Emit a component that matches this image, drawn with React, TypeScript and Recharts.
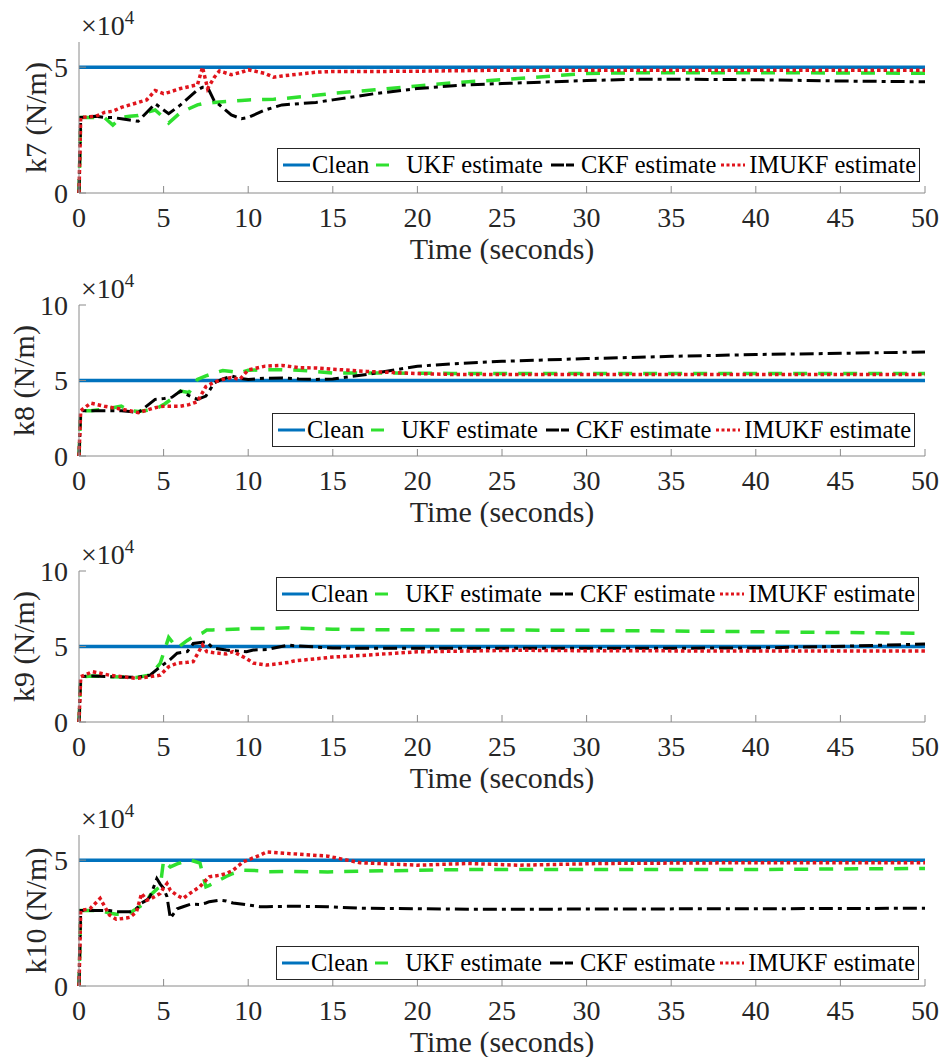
import React from 'react';
import { LineChart, Line, XAxis, YAxis, Legend } from 'recharts';

const FONT = '"Liberation Serif", "Times New Roman", serif';
const INK = '#262626';

// shared axis ticks and the reference level (all values in units of 1e4 N/m)
const timeTicks = [0, 5, 10, 15, 20, 25, 30, 35, 40, 45, 50];
const cleanLevel = 5;

// k7
const k7Time = [0, 0.1, 1, 1.5, 2, 2.5, 3, 3.5, 4, 4.5, 5, 5.3, 6, 7, 7.3, 7.6, 8, 8.3, 9, 9.6, 10, 11, 11.5, 12, 14, 15, 17.5, 20, 22.5, 25, 28, 30, 33, 36, 40, 45, 50];
const k7Ukf = [0, 3, 3.0, 3.0, 2.7, 3.0, 3.05, 3.08, 3.2, 3.3, 3.0, 2.78, 3.2, 3.5, 3.55, 3.55, 3.6, 3.62, 3.65, 3.68, 3.7, 3.72, 3.73, 3.75, 3.88, 3.96, 4.1, 4.25, 4.4, 4.5, 4.65, 4.75, 4.78, 4.78, 4.78, 4.77, 4.76];
const k7Ckf = [0, 3, 3.05, 3.0, 3.0, 2.95, 2.9, 2.85, 3.2, 3.55, 3.3, 3.15, 3.5, 4.1, 4.2, 4.2, 3.65, 3.5, 3.1, 2.95, 3.0, 3.3, 3.4, 3.5, 3.6, 3.7, 3.95, 4.15, 4.28, 4.35, 4.42, 4.47, 4.52, 4.52, 4.5, 4.45, 4.42];
const k7Imukf = [0, 3, 3.05, 3.2, 3.25, 3.4, 3.5, 3.6, 3.7, 4.07, 3.95, 4.0, 4.15, 4.3, 5.0, 4.15, 4.6, 4.85, 4.7, 4.8, 4.9, 4.75, 4.6, 4.65, 4.8, 4.83, 4.83, 4.84, 4.86, 4.88, 4.88, 4.88, 4.88, 4.88, 4.88, 4.88, 4.88];

// k8
const k8Time = [0, 0.1, 0.7, 1.5, 2.5, 3, 3.5, 4.5, 5, 5.5, 6, 6.5, 7, 7.5, 8, 8.5, 9, 9.5, 10, 11, 12, 13, 14, 15, 17, 20, 22, 25, 30, 35, 40, 45, 50];
const k8Ukf = [0, 3, 3.0, 3.1, 3.3, 3.0, 2.95, 3.1, 3.4, 3.8, 4.3, 4.2, 5.07, 5.3, 5.5, 5.66, 5.6, 5.5, 5.68, 5.7, 5.72, 5.68, 5.6, 5.5, 5.5, 5.48, 5.47, 5.47, 5.47, 5.47, 5.47, 5.47, 5.47];
const k8Ckf = [0, 3, 3.0, 3.0, 3.0, 2.95, 2.87, 3.75, 3.8, 3.9, 4.3, 4.0, 3.75, 3.97, 4.85, 5.1, 5.3, 5.15, 5.07, 5.15, 5.17, 5.1, 5.07, 5.1, 5.4, 5.94, 6.1, 6.27, 6.45, 6.6, 6.72, 6.8, 6.89];
const k8Imukf = [0, 3, 3.5, 3.3, 3.1, 3.0, 2.87, 3.2, 3.3, 3.3, 3.3, 3.4, 3.6, 4.6, 4.9, 5.07, 5.2, 5.07, 5.7, 5.95, 6.0, 5.85, 5.83, 5.75, 5.6, 5.46, 5.4, 5.39, 5.39, 5.39, 5.39, 5.39, 5.39];

// k9
const k9Time = [0, 0.1, 0.8, 1.8, 3.4, 4.2, 4.8, 5.3, 5.8, 6.4, 6.75, 7.3, 7.55, 7.9, 8.7, 9.1, 9.9, 10.3, 11.1, 12.4, 12.7, 15, 16.6, 20, 26, 30, 40, 44.6, 50];
const k9Ukf = [0, 3, 3.05, 3.0, 2.95, 3.1, 3.88, 5.6, 4.9, 5.4, 5.65, 5.9, 6.09, 6.1, 6.13, 6.15, 6.18, 6.2, 6.2, 6.24, 6.22, 6.15, 6.12, 6.1, 6.09, 6.07, 5.98, 5.93, 5.87];
const k9Ckf = [0, 3, 3.05, 3.0, 2.95, 3.1, 3.66, 4.05, 4.56, 4.66, 5.2, 5.28, 5.32, 4.9, 4.77, 4.72, 4.66, 4.77, 4.8, 5.1, 5.05, 4.9, 4.88, 4.88, 4.88, 4.88, 4.9, 5.0, 5.16];
const k9Imukf = [0, 3, 3.33, 3.1, 2.89, 3.0, 3.1, 3.66, 3.9, 3.95, 4.0, 5.1, 4.66, 4.6, 4.5, 4.66, 4.2, 3.9, 3.77, 3.95, 4.04, 4.3, 4.4, 4.65, 4.75, 4.72, 4.7, 4.7, 4.7];

// k10
const k10Time = [0, 0.1, 0.65, 1.25, 1.8, 2.2, 2.8, 3.0, 3.4, 3.7, 4.0, 4.2, 4.6, 4.8, 5.0, 5.2, 5.4, 5.8, 6.15, 6.6, 7.15, 7.5, 7.7, 8.3, 8.7, 9.1, 9.7, 10.7, 11.1, 12.7, 14.7, 16.6, 20, 23, 26, 31, 40, 50];
const k10Ukf = [0, 3, 3.0, 3.0, 2.9, 2.85, 2.85, 2.9, 3.07, 3.2, 3.4, 3.6, 3.85, 3.94, 5.0, 4.85, 4.73, 4.85, 4.93, 5.0, 4.88, 3.94, 4.0, 4.21, 4.35, 4.47, 4.6, 4.58, 4.54, 4.55, 4.53, 4.56, 4.6, 4.63, 4.63, 4.63, 4.63, 4.67];
const k10Ckf = [0, 3, 3.0, 3.0, 3.0, 2.95, 2.95, 2.95, 3.07, 3.3, 3.41, 3.55, 4.27, 4.05, 3.88, 3.55, 2.69, 3.07, 3.15, 3.25, 3.24, 3.3, 3.35, 3.41, 3.38, 3.3, 3.25, 3.15, 3.15, 3.17, 3.15, 3.09, 3.07, 3.05, 3.05, 3.06, 3.07, 3.09];
const k10Imukf = [0, 3, 3.07, 3.48, 2.82, 2.65, 2.7, 2.73, 2.95, 3.68, 3.41, 3.45, 3.6, 3.68, 3.9, 4.07, 3.8, 3.6, 3.48, 3.7, 3.95, 4.2, 4.34, 4.4, 4.47, 4.6, 4.93, 5.2, 5.33, 5.25, 5.16, 4.9, 4.8, 4.87, 4.8, 4.87, 4.9, 4.9];

const series = [
  { key: 'clean', label: 'Clean', color: '#0072bd', width: 3.5, dash: undefined, legendDash: undefined, sample: 27, before: 0, after: 2 },
  { key: 'ukf', label: 'UKF estimate', color: '#2fe02f', width: 3.5, dash: '14 11', legendDash: '13 40', sample: 13, before: 7, after: 17 },
  { key: 'ckf', label: 'CKF estimate', color: '#000000', width: 3, dash: '14 5 4 5', legendDash: '13 2 8 10', sample: 26, before: 8, after: 4 },
  { key: 'imukf', label: 'IMUKF estimate', color: '#e0141c', width: 3.5, dash: '3.5 3', legendDash: '3 2.5', sample: 24, before: 5, after: 4 },
];

const buildRows = (time: number[], ukf: number[], ckf: number[], imukf: number[]) =>
  time.map((t, i) => ({ t, clean: cleanLevel, ukf: ukf[i], ckf: ckf[i], imukf: imukf[i] }));

const LegendBox = () => (
  <div
    style={{
      display: 'inline-flex',
      alignItems: 'center',
      border: '1px solid #262626',
      background: '#fff',
      padding: '0 3px 0 5px',
      height: 32,
      fontFamily: FONT,
      fontSize: 24.5,
      color: '#000',
      whiteSpace: 'nowrap',
    }}
  >
    {series.map((s) => (
      <span key={s.key} style={{ display: 'inline-flex', alignItems: 'center' }}>
        <svg width={s.sample} height={10} style={{ marginLeft: s.before, marginRight: s.after }}>
          <line x1={0} x2={s.sample} y1={5} y2={5} stroke={s.color} strokeWidth={3} strokeDasharray={s.legendDash} />
        </svg>
        <span>{s.label}</span>
      </span>
    ))}
  </div>
);

const YTitle = ({ viewBox, title, baselineX }: any) => {
  const cy = viewBox.y + viewBox.height / 2;
  return (
    <g>
      <text
        x={baselineX}
        y={cy}
        transform={`rotate(-90, ${baselineX}, ${cy})`}
        textAnchor="middle"
        fontFamily={FONT}
        fontSize={30}
        fill={INK}
      >
        {title}
      </text>
      <text x={viewBox.x + viewBox.width + 2} y={viewBox.y - 7} fontFamily={FONT} fontSize={28} fill={INK}>
        ×10
        <tspan fontSize={19} dy={-11}>
          4
        </tspan>
      </text>
    </g>
  );
};

type PanelProps = {
  title: string;
  rows: any[];
  yMax: number;
  yTicks: number[];
  top: number;
  legendLeft: number;
  legendTop: number;
  titleX: number;
};

const Panel = ({ title, rows, yMax, yTicks, top, legendLeft, legendTop, titleX }: PanelProps) => (
  <div style={{ position: 'absolute', left: 0, top }}>
    <LineChart width={949} height={264} data={rows} margin={{ top: 42, right: 24, bottom: 0, left: 0 }}>
      <XAxis
        dataKey="t"
        type="number"
        domain={[0, 50]}
        ticks={timeTicks}
        height={71}
        tickSize={-7}
        tickMargin={21}
        axisLine={{ stroke: '#8a8a8a' }}
        tickLine={{ stroke: '#8a8a8a' }}
        tick={{ fill: INK, fontSize: 28, fontFamily: FONT }}
        label={{ value: 'Time (seconds)', position: 'insideBottom', offset: 5, fill: INK, fontSize: 30, fontFamily: FONT }}
      />
      <XAxis
        xAxisId="top"
        orientation="top"
        dataKey="t"
        type="number"
        domain={[0, 50]}
        ticks={timeTicks}
        height={0}
        tick={false}
        tickSize={-7}
        axisLine={{ stroke: '#d6d6d6' }}
        tickLine={{ stroke: '#8a8a8a' }}
      />
      <YAxis
        type="number"
        domain={[0, yMax]}
        ticks={yTicks}
        width={79}
        tickSize={-7}
        tickMargin={18}
        axisLine={{ stroke: '#8a8a8a' }}
        tickLine={{ stroke: '#8a8a8a' }}
        tick={{ fill: INK, fontSize: 28, fontFamily: FONT }}
        label={(props: any) => <YTitle {...props} title={title} baselineX={titleX} />}
      />
      <YAxis
        yAxisId="right"
        orientation="right"
        type="number"
        domain={[0, yMax]}
        width={0}
        tick={false}
        tickLine={false}
        axisLine={{ stroke: '#3a3a3a' }}
      />
      <Legend
        layout="horizontal"
        verticalAlign="middle"
        align="center"
        wrapperStyle={{ left: legendLeft, top: legendTop, width: 'auto' }}
        content={() => <LegendBox />}
      />
      {series.map((s) => (
        <Line
          key={s.key}
          type="linear"
          dataKey={s.key}
          stroke={s.color}
          strokeWidth={s.width}
          strokeDasharray={s.dash}
          dot={false}
          activeDot={false}
          isAnimationActive={false}
        />
      ))}
    </LineChart>
  </div>
);

export default function App() {
  return (
    <div style={{ position: 'absolute', left: 0, top: 0, width: 949, height: 1063, background: '#fff' }}>
      <Panel title="k7 (N/m)" rows={buildRows(k7Time, k7Ukf, k7Ckf, k7Imukf)} yMax={6} yTicks={[0, 5]} top={0} legendLeft={277} legendTop={148} titleX={46} />
      <Panel title="k8 (N/m)" rows={buildRows(k8Time, k8Ukf, k8Ckf, k8Imukf)} yMax={10} yTicks={[0, 5, 10]} top={263} legendLeft={272} legendTop={150} titleX={34} />
      <Panel title="k9 (N/m)" rows={buildRows(k9Time, k9Ukf, k9Ckf, k9Imukf)} yMax={10} yTicks={[0, 5, 10]} top={529} legendLeft={276} legendTop={48} titleX={34} />
      <Panel title="k10 (N/m)" rows={buildRows(k10Time, k10Ukf, k10Ckf, k10Imukf)} yMax={6} yTicks={[0, 5]} top={793} legendLeft={276} legendTop={153} titleX={46} />
    </div>
  );
}
